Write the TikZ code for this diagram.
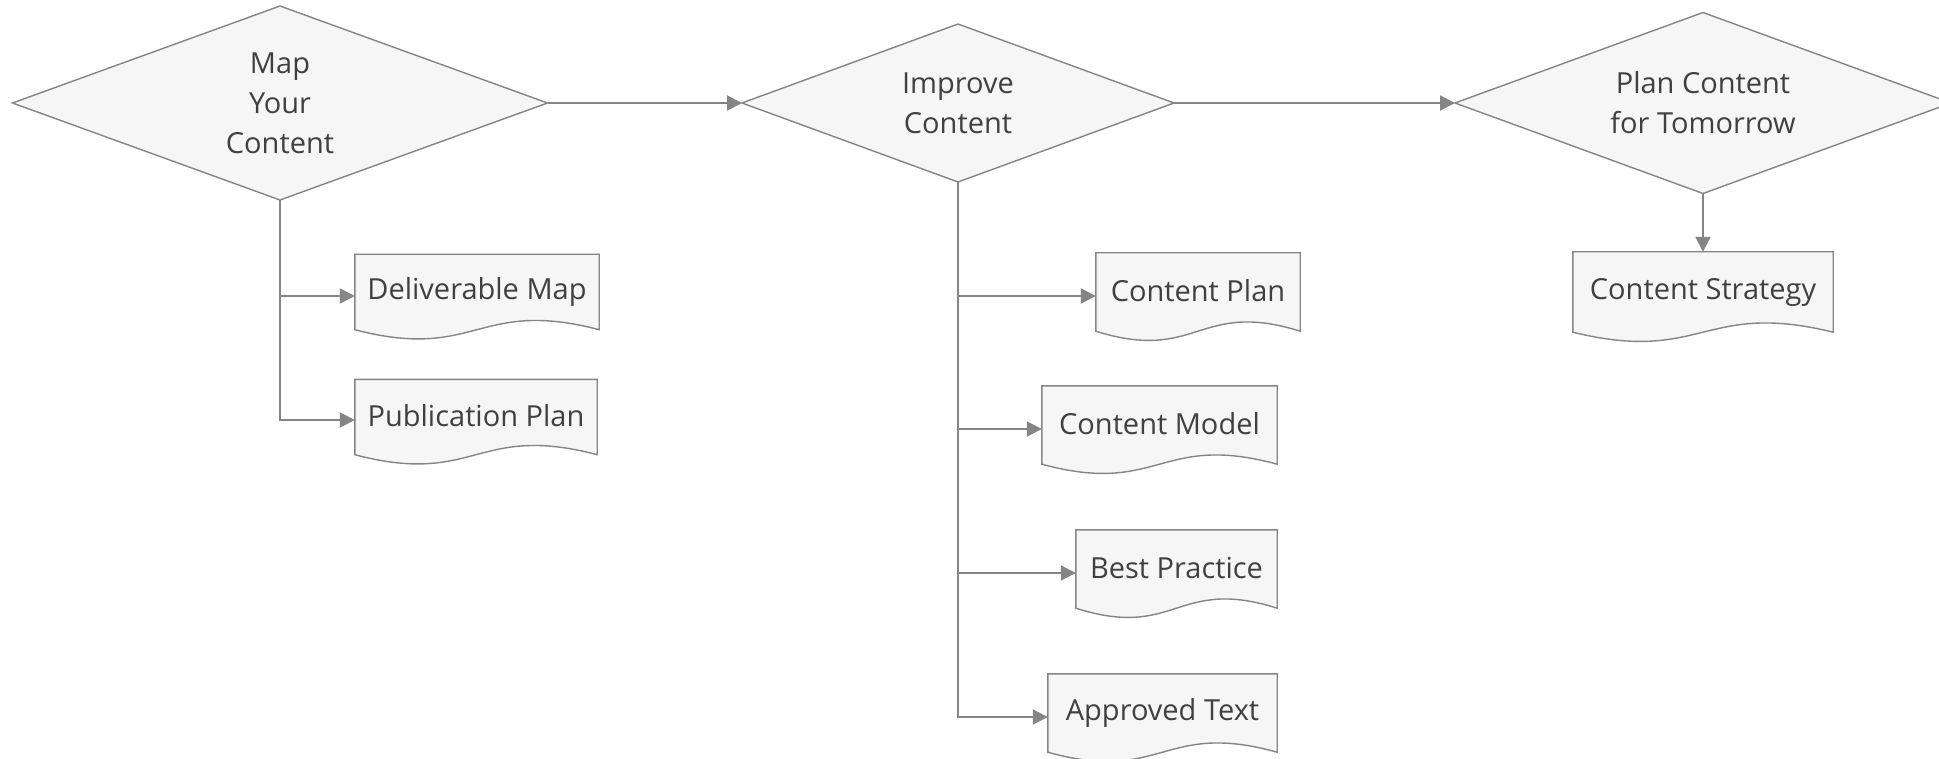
\documentclass[tikz,border=0pt]{standalone}
\usepackage{fontspec}
\setmainfont{Open Sans}
\usetikzlibrary{shapes.geometric,arrows.meta,backgrounds}
\definecolor{linegray}{HTML}{858585}
\definecolor{fillgray}{HTML}{F6F6F6}
\definecolor{textgray}{HTML}{404040}
\tikzset{
  decision/.style={diamond, aspect=2.75, draw=linegray, line width=1.4pt, fill=fillgray, text=textgray, inner sep=0pt, outer sep=0pt, align=center, font=\fontsize{29}{40}\selectfont},
  docnode/.style={rectangle, inner sep=0pt, text=textgray, font=\fontsize{29}{34}\selectfont},
  docshape/.style={draw=linegray, line width=1.4pt, fill=fillgray},
  conn/.style={draw=linegray, line width=2pt, -{Triangle[length=15pt,width=15pt]}},
}
\newcommand\docbox[6]{%
  \node[docnode, minimum width=#4pt, minimum height=#5pt] (#1) at (#2,#3) {\raisebox{3pt}{#6}};
  \begin{scope}[on background layer]
  \path[docshape] (#1.north west) -- (#1.north east) -- (#1.south east) .. controls ([yshift=32pt]#1.south) and ([yshift=-32pt]#1.south) .. (#1.south west) -- cycle;
  \end{scope}}
\begin{document}
\begin{tikzpicture}[x=1pt, y=-1pt]
\begin{scope}[on background layer]
\fill[white] (0,0) rectangle (1939,759);
\end{scope}
\useasboundingbox (0,0) rectangle (1939,759);

\node[decision, minimum width=535pt, minimum height=194pt] (d1) at (280,103) {Map\\Your\\Content};
\node[decision, minimum width=432pt, minimum height=158pt] (d2) at (958,103) {Improve\\Content};
\node[decision, minimum width=496pt, minimum height=181pt] (d3) at (1703,103) {Plan Content\\for Tomorrow};

\docbox{dm}{477}{292}{244}{75}{Deliverable Map}
\docbox{pp}{476}{417}{242}{75}{Publication Plan}
\docbox{cp}{1198}{292}{204}{78}{Content Plan}
\docbox{cm}{1159.5}{425}{235}{78}{Content Model}
\docbox{bp}{1176.5}{569}{201}{78}{Best Practice}
\docbox{at}{1162.5}{713}{229}{78}{Approved Text}
\docbox{cs}{1703}{292}{260}{80}{Content Strategy}

\draw[conn] (d1) -- (d2);
\draw[conn] (d2) -- (d3);
\draw[conn] (d3) -- (cs);
\draw[conn] (d1.south) |- ([yshift=-4pt]dm.west);
\draw[conn] (d1.south) |- ([yshift=-3pt]pp.west);
\draw[conn] (d2.south) |- ([yshift=-4pt]cp.west);
\draw[conn] (d2.south) |- ([yshift=-4pt]cm.west);
\draw[conn] (d2.south) |- ([yshift=-4pt]bp.west);
\draw[conn] (d2.south) |- ([yshift=-4pt]at.west);
\end{tikzpicture}
\end{document}
